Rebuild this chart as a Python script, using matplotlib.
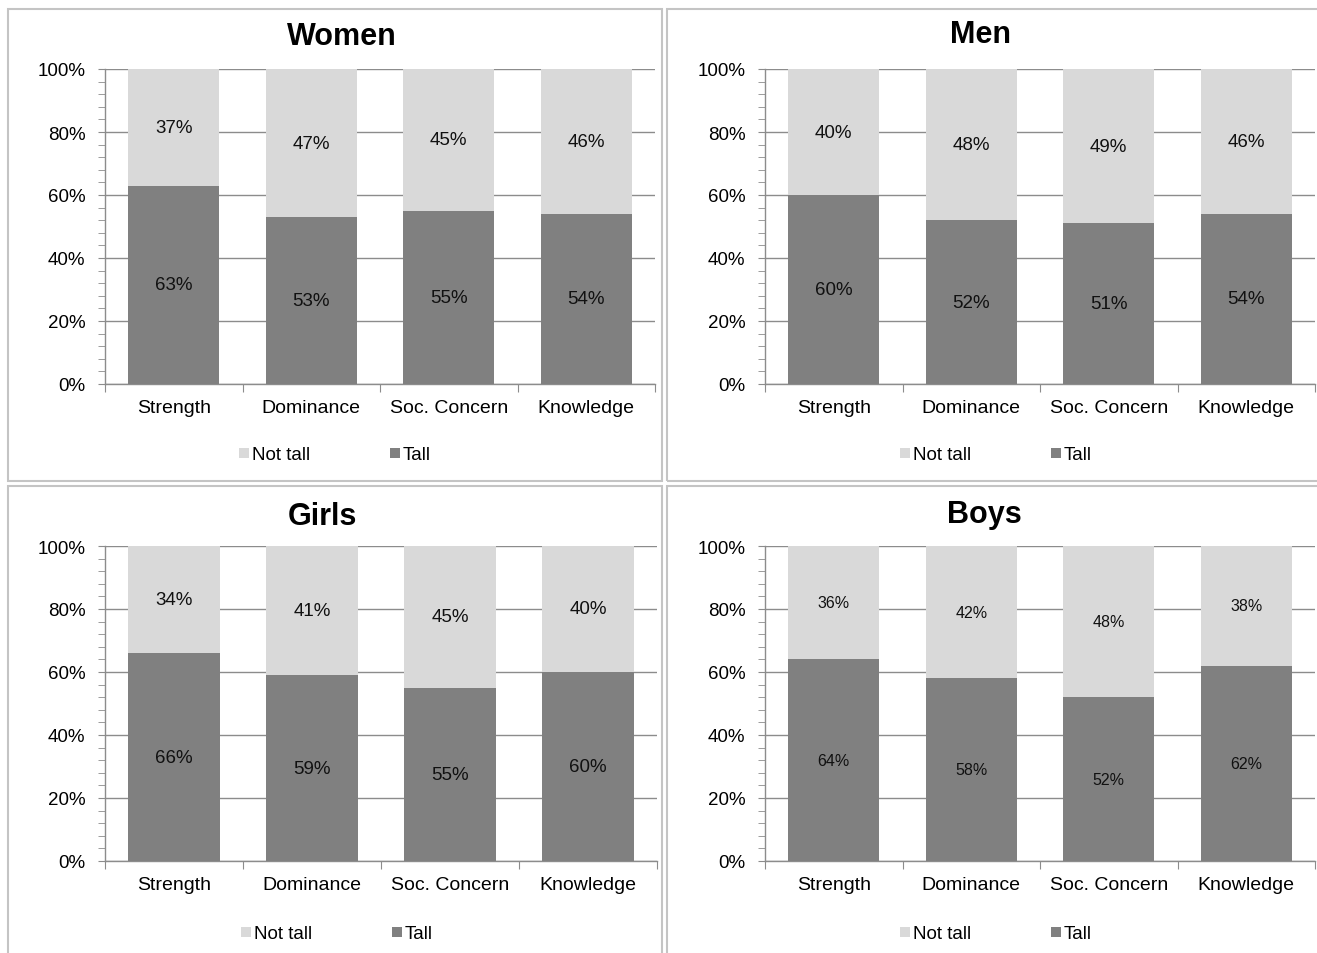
import numpy as np
import matplotlib.pyplot as plt
from matplotlib.patches import Patch, Rectangle

plt.rcParams["font.family"] = ["Liberation Sans", "DejaVu Sans"]

W, H = 1317, 954

categories = ["Strength", "Dominance", "Soc. Concern", "Knowledge"]
series_names = ["Not tall", "Tall"]

women_tall = [63, 53, 55, 54]
women_not_tall = [37, 47, 45, 46]
men_tall = [60, 52, 51, 54]
men_not_tall = [40, 48, 49, 46]
girls_tall = [66, 59, 55, 60]
girls_not_tall = [34, 41, 45, 40]
boys_tall = [64, 58, 52, 62]
boys_not_tall = [36, 42, 48, 38]

LIGHT = "#d9d9d9"
DARK = "#808080"
GRID = "#8c8c8c"
BORDER = "#c4c4c4"

fig = plt.figure(figsize=(W / 100, H / 100), dpi=100)


def frac(x, y):
    return x / W, 1 - y / H


def add_box(x0, y0, x1, y1):
    fx, fy = frac(x0, y1)
    fig.patches.append(Rectangle((fx, fy), (x1 - x0) / W, (y1 - y0) / H,
                                 transform=fig.transFigure, fill=False,
                                 edgecolor=BORDER, linewidth=1.5))


def draw_panel(title, tall, not_tall, box, axbox, title_xy, legend_xy, label_size):
    add_box(*box)
    l, t, r, b = axbox
    ax = fig.add_axes([l / W, 1 - b / H, (r - l) / W, (b - t) / H])
    x = np.arange(len(categories))
    tall = np.array(tall)
    not_tall = np.array(not_tall)
    ax.bar(x, tall, width=0.665, color=DARK, zorder=3)
    ax.bar(x, not_tall, width=0.665, bottom=tall, color=LIGHT, zorder=3)
    for xi, tv, nv in zip(x, tall, not_tall):
        ax.text(xi, tv / 2, f"{tv}%", ha="center", va="center",
                fontsize=label_size, color="#111111", zorder=4)
        ax.text(xi, tv + nv / 2, f"{nv}%", ha="center", va="center",
                fontsize=label_size, color="#111111", zorder=4)

    ax.set_xlim(-0.5, len(categories) - 0.5)
    ax.set_ylim(0, 100)
    ax.set_yticks(np.arange(0, 101, 20))
    ax.set_yticks(np.arange(0, 101, 4), minor=True)
    ax.set_yticklabels([f"{v}%" for v in range(0, 101, 20)], fontsize=13.5)
    ax.set_xticks(np.arange(-0.5, len(categories), 1.0))
    ax.set_xticklabels([])
    ax.set_xticks(x, minor=True)
    ax.set_xticklabels(categories, minor=True, fontsize=14)
    ax.tick_params(axis="x", which="major", length=6, color=GRID, direction="out")
    ax.tick_params(axis="x", which="minor", length=0, pad=11)
    ax.tick_params(axis="y", which="both", length=5, color=GRID, direction="out", pad=9)
    ax.grid(axis="y", color=GRID, linewidth=1.0, zorder=0)
    ax.set_axisbelow(True)
    for side in ("top", "right"):
        ax.spines[side].set_visible(False)
    for side in ("left", "bottom"):
        ax.spines[side].set_color(GRID)
        ax.spines[side].set_linewidth(1.0)

    tx, ty = frac(*title_xy)
    fig.text(tx, ty, title, ha="center", va="center", fontsize=22, fontweight="bold")

    handles = [Patch(facecolor=LIGHT, edgecolor="none"), Patch(facecolor=DARK, edgecolor="none")]
    lx, ly = frac(*legend_xy)
    fig.legend(handles, series_names, loc="center", bbox_to_anchor=(lx, ly),
               ncol=2, frameon=False, fontsize=13.5, handlelength=0.5,
               handleheight=0.5, handletextpad=0.15, columnspacing=4.3)
    return ax


draw_panel("Women", women_tall, women_not_tall, (8, 10, 662, 482),
           (105, 70, 655, 385), (342, 37), (335, 456), 13.5)
draw_panel("Men", men_tall, men_not_tall, (667, 10, 1330, 482),
           (765, 70, 1315, 385), (980, 35), (996, 456), 13.5)
draw_panel("Girls", girls_tall, girls_not_tall, (8, 487, 662, 970),
           (105, 547, 657, 862), (322, 517), (337, 935), 13.5)
draw_panel("Boys", boys_tall, boys_not_tall, (667, 487, 1330, 970),
           (765, 547, 1315, 862), (984, 515), (996, 935), 11.5)

fig.savefig("out.png", dpi=100)
